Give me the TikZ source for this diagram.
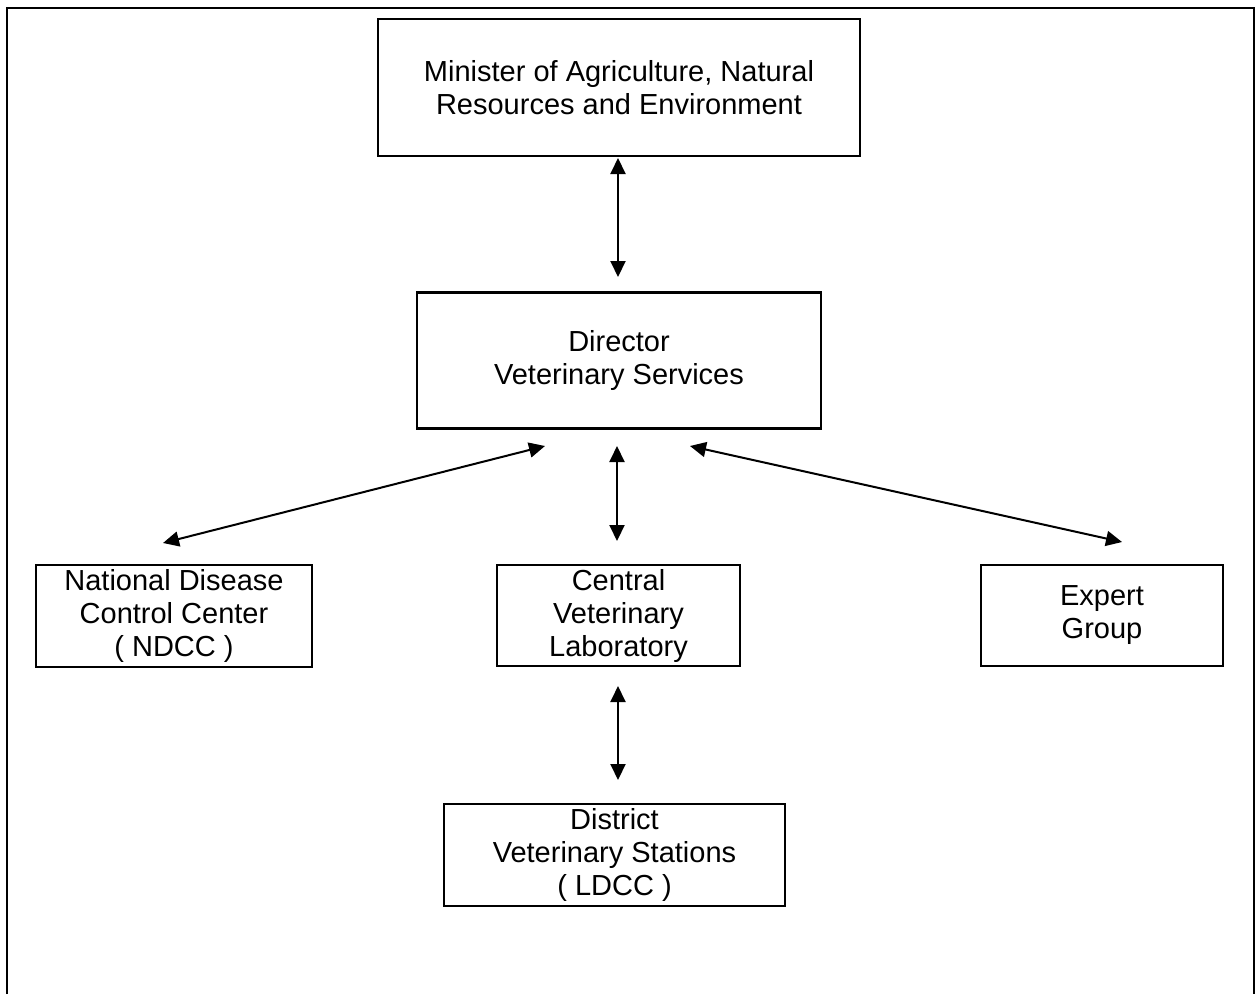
\documentclass[tikz,border=0pt]{standalone}
\usepackage{fontspec}
\setmainfont{Liberation Sans}
\usetikzlibrary{arrows.meta}
\begin{document}
\begin{tikzpicture}[x=1pt,y=-1pt,
  box/.style={draw,line width=2.2pt,align=center,inner sep=0pt,
    font=\fontsize{29}{33}\selectfont},
  link/.style={line width=2pt,
    {Triangle[length=16pt,width=15pt]}-{Triangle[length=16pt,width=15pt]}}]
\useasboundingbox (0,0) rectangle (1257,994);
\draw[line width=2.4pt] (7,994) -- (7,8) -- (1254,8) -- (1254,994);
\node[box,minimum width=482pt,minimum height=137pt] (min) at (619,87.5)
  {Minister of Agriculture, Natural\\Resources and Environment};
\node[box,minimum width=404pt,minimum height=136pt] (dir) at (619,360.5)
  {Director\\Veterinary Services};
\node[box,minimum width=276pt,minimum height=102pt] (ndcc) at (174,616)
  {National Disease\\Control Center\\( NDCC )};
\node[box,minimum width=243pt,minimum height=101pt] (cvl) at (618.5,615.5)
  {Central\\Veterinary\\Laboratory};
\node[box,minimum width=242pt,minimum height=101pt] (exp) at (1102,615.5)
  {Expert\\Group};
\node[box,minimum width=341pt,minimum height=102pt] (dvs) at (614.5,855)
  {District\\Veterinary Stations\\( LDCC )};
\coordinate (a1) at (618,158);
\coordinate (b1) at (618,277);
\coordinate (a2) at (545,446);
\coordinate (b2) at (163,543);
\coordinate (a3) at (617,446);
\coordinate (b3) at (617,541);
\coordinate (a4) at (690,446);
\coordinate (b4) at (1122,542);
\coordinate (a5) at (618,686);
\coordinate (b5) at (618,780);
\draw[link] (a1) -- (b1);
\draw[link] (a2) -- (b2);
\draw[link] (a3) -- (b3);
\draw[link] (a4) -- (b4);
\draw[link] (a5) -- (b5);
\end{tikzpicture}
\end{document}
